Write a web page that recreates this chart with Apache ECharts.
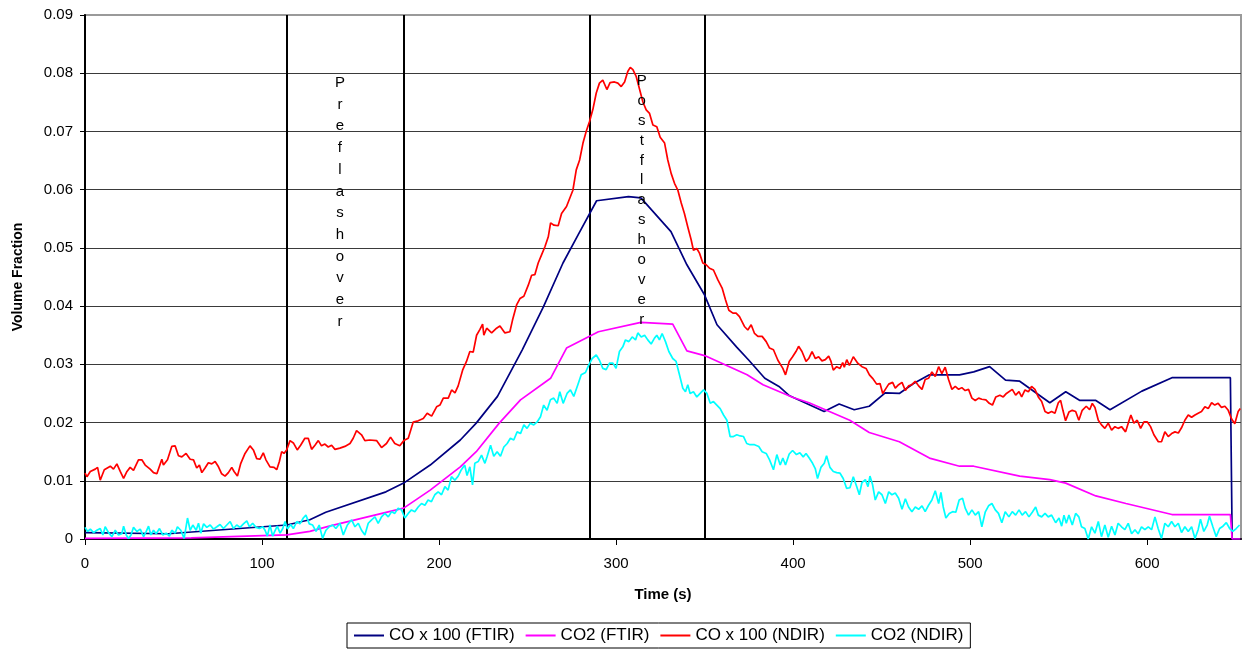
<!DOCTYPE html>
<html>
<head>
<meta charset="utf-8">
<title>Volume Fraction vs Time</title>
<script src="https://cdn.jsdelivr.net/npm/echarts@6/dist/echarts.min.js"></script>
<style>
  html, body { margin: 0; padding: 0; background: #fff; }
  #chart { width: 1245px; height: 652px; }
</style>
</head>
<body>
<div id="chart"></div>
<script>
// Gas measurements during the burn: [time (s), volume fraction]
const seriesNames = ['CO x 100 (FTIR)', 'CO2 (FTIR)', 'CO x 100 (NDIR)', 'CO2 (NDIR)'];

const coFtir = [
  [0,0.0011],[47,0.0009],[114,0.0024],[127,0.0033],[136,0.0046],[170,0.0081],[180,0.0096],
  [195,0.0127],[212,0.0170],[221,0.0199],[233,0.0245],[247,0.0325],[259,0.0399],[270,0.0474],
  [279,0.0525],[289,0.0581],[307,0.0588],[314,0.0586],[331,0.0528],[340,0.0471],[350,0.0419],
  [357,0.0368],[368,0.0330],[375,0.0307],[384,0.0276],[392,0.0262],[398,0.0246],[417.5,0.0219],
  [426,0.0232],[434.5,0.0222],[443,0.0228],[452,0.0251],[460,0.0250],[468,0.0267],[477,0.0282],
  [494,0.0282],[502,0.0287],[511,0.0296],[520,0.0273],[528,0.0271],[545,0.0234],[554,0.0253],
  [562,0.0238],[571,0.0238],[579,0.0222],[597,0.0254],[614,0.0277],[647,0.0277],[648,0],[652.6,0]
];

const co2Ftir = [
  [0,0.0001],[60,0.0002],[114,0.0007],[127,0.0013],[138,0.0022],[180,0.0053],[195,0.0084],
  [212,0.0124],[221,0.0150],[234,0.0199],[246,0.0239],[263,0.0276],[272,0.0328],[290,0.0356],
  [314,0.0372],[332,0.0369],[340,0.0323],[350,0.0315],[374,0.0282],[383,0.0265],[400,0.0243],
  [409,0.0234],[432,0.0204],[443,0.0183],[460,0.0167],[477,0.0139],[494,0.0125],[502,0.0125],
  [528,0.0108],[545,0.0102],[554,0.0096],[571,0.0074],[588,0.0061],[614,0.0042],[647,0.0042],
  [648,0],[652.6,0]
];

const coNdir = [
  [0,0.0113],[1.1,0.0107],[3,0.0116],[5.8,0.0120],[7.1,0.0123],[8.6,0.0101],[10.9,0.0119],[14.3,0.0125],
  [16.1,0.0120],[18,0.0129],[19.9,0.0116],[21.8,0.0104],[23.7,0.0116],[25.5,0.0123],[27.4,0.0118],
  [30.2,0.0136],[32.1,0.0136],[34,0.0127],[36.8,0.0120],[38.7,0.0114],[40.6,0.0112],[43.4,0.0137],
  [44.3,0.0127],[46.6,0.0136],[49,0.0159],[50.9,0.0160],[52.8,0.0143],[54.7,0.0141],[57.1,0.0147],
  [59.4,0.0137],[61.3,0.0136],[63.1,0.0122],[64.6,0.0127],[66,0.0114],[67.8,0.0122],[69.7,0.0131],
  [71.6,0.0129],[73.5,0.0133],[75.4,0.0124],[77.2,0.0112],[79.1,0.0108],[81,0.0114],[82.9,0.0123],
  [84.2,0.0116],[86.1,0.0108],[88,0.0130],[90.4,0.0147],[93.2,0.0160],[95.1,0.0153],[97,0.0138],
  [98.9,0.0137],[100.7,0.0148],[102.2,0.0136],[104.5,0.0124],[106.8,0.0123],[108.3,0.0119],
  [109.8,0.0133],[111.1,0.0150],[112.4,0.0147],[113.9,0.0153],[115.8,0.0169],[117.7,0.0165],
  [119.9,0.0153],[121.8,0.0161],[124.2,0.0173],[126.1,0.0173],[128,0.0154],[129.9,0.0161],
  [131.8,0.0169],[133.6,0.0160],[135.5,0.0163],[137.4,0.0158],[139.3,0.0161],[141.2,0.0154],
  [144,0.0156],[146.8,0.0159],[149.7,0.0164],[151.5,0.0173],[153.4,0.0186],[156.2,0.0179],
  [158.1,0.0169],[160.9,0.0170],[164.7,0.0169],[167.5,0.0157],[170.3,0.0164],[172.6,0.0175],
  [175,0.0164],[177.8,0.0160],[180.1,0.0169],[182.6,0.0173],[185.4,0.0201],[188.2,0.0203],
  [191.1,0.0207],[193.3,0.0216],[195.8,0.0211],[198.6,0.0227],[200.5,0.0230],[202.4,0.0242],
  [205.2,0.0242],[207.1,0.0256],[209,0.0251],[210.8,0.0263],[213.3,0.0290],[215.5,0.0305],
  [217.4,0.0322],[219.3,0.0321],[221.2,0.0350],[223.1,0.0360],[224.6,0.0369],[225.3,0.0350],
  [226.9,0.0362],[229.7,0.0354],[232.5,0.0362],[234.4,0.0366],[237.2,0.0354],[240,0.0356],
  [241.5,0.0376],[243.8,0.0402],[245.7,0.0413],[247.9,0.0417],[250.4,0.0436],[252.3,0.0453],
  [254.1,0.0454],[256,0.0474],[257.9,0.0488],[259.8,0.0502],[261.7,0.0519],[263,0.0543],
  [264.9,0.0539],[267.3,0.0538],[269.2,0.0559],[272,0.0571],
  [275.6,0.0599],[277.5,0.0634],[279.4,0.0651],[281.3,0.0680],[283.1,0.0700],[285,0.0717],
  [286.9,0.0738],[288.8,0.0766],[290.6,0.0783],[292.5,0.0788],[294.8,0.0772],[296.6,0.0784],
  [299.1,0.0785],[301,0.0783],[302.9,0.0777],[304.8,0.0785],[306.6,0.0803],[308,0.0810],
  [309.5,0.0806],[311.4,0.0794],[313.3,0.0772],[315.1,0.0751],[317,0.0737],[318.9,0.0731],
  [320.8,0.0711],[323,0.0708],[324.9,0.0690],[327.4,0.0680],[329.2,0.0651],[331.1,0.0628],
  [333,0.0611],[334.9,0.0599],[336.8,0.0577],[338.6,0.0559],[340.5,0.0536],[342.4,0.0514],
  [343.7,0.0496],[345.6,0.0499],[347.1,0.0491],[349,0.0474],[350.9,0.0471],[352.8,0.0465],
  [355,0.0462],[357.5,0.0445],[359.9,0.0431],[361.8,0.0411],[363.7,0.0393],[366,0.0388],
  [367.8,0.0388],[369.7,0.0382],[372.5,0.0365],[374.4,0.0359],[376.3,0.0368],[378.2,0.0353],
  [380.1,0.0348],[382.5,0.0348],[384.8,0.0339],[386.7,0.0328],[388.9,0.0325],[391.4,0.0307],
  [394.2,0.0293],[395.7,0.0282],
  [397.8,0.0305],[399.7,0.0313],[401.6,0.0322],[403.1,0.0331],[405,0.0322],[407.3,0.0305],
  [408.8,0.0310],[410.7,0.0322],[412.6,0.0310],[414.4,0.0313],[416.3,0.0306],[418.2,0.0308],
  [420.1,0.0314],[421.4,0.0305],[422.7,0.0290],[424.6,0.0296],[426.5,0.0293],[428,0.0303],
  [428.9,0.0295],[430.3,0.0308],[431.8,0.0298],[434,0.0313],[436.5,0.0302],[438.9,0.0296],
  [441.2,0.0293],[443.1,0.0282],[444.9,0.0276],[447.2,0.0266],[449.1,0.0267],[450.6,0.0250],
  [452.1,0.0257],[454,0.0266],[456.2,0.0269],[457.7,0.0259],[459.6,0.0265],[461.5,0.0269],
  [463.4,0.0255],[465.2,0.0263],[467.1,0.0265],[469,0.0271],[470.9,0.0263],[472.8,0.0257],
  [474.6,0.0274],[476.5,0.0276],[478.4,0.0287],[480.3,0.0279],[482.2,0.0296],[484,0.0284],
  [485.9,0.0295],[487.8,0.0274],[489.7,0.0257],[491.6,0.0262],[493.5,0.0257],[495.3,0.0260],
  [497.2,0.0255],[499.1,0.0257],[501,0.0242],[502.9,0.0238],[504.8,0.0242],[506.6,0.0240],
  [508.9,0.0239],[510.8,0.0233],[512.6,0.0230],[514.5,0.0244],[516.8,0.0247],[518.7,0.0244],
  [520.5,0.0250],
  [523.8,0.0257],[525.7,0.0247],[527.6,0.0253],[529.1,0.0244],[531,0.0256],[532.9,0.0253],
  [534.7,0.0262],[536.6,0.0257],[538.5,0.0244],[540.4,0.0236],[542.3,0.0219],[544.1,0.0216],
  [546,0.0219],[547.9,0.0216],[549.8,0.0234],[551.1,0.0238],[552.4,0.0221],[553.9,0.0203],
  [555.8,0.0218],[557.7,0.0221],[559.6,0.0219],[561.4,0.0204],[563.3,0.0221],[565.6,0.0228],
  [567.5,0.0222],[569,0.0233],[570.5,0.0226],[572.4,0.0204],[574.2,0.0196],[576.1,0.0190],
  [578,0.0199],[579.9,0.0187],[581.8,0.0193],[583.6,0.0190],[585.5,0.0193],[587.8,0.0184],
  [589.3,0.0199],[590.8,0.0213],[592.5,0.0199],[594.4,0.0204],[596.3,0.0190],[598.2,0.0201],
  [600.1,0.0201],[601.9,0.0193],[603.8,0.0179],[606.3,0.0167],[608.1,0.0167],[610,0.0184],
  [611.9,0.0176],[613.8,0.0181],[615.7,0.0184],[617.6,0.0182],[619.4,0.0191],[621.3,0.0204],
  [623.2,0.0213],[625.1,0.0209],[627,0.0213],[628.8,0.0216],[630.7,0.0219],[632.6,0.0227],
  [634.5,0.0224],[636.4,0.0234],[638.2,0.0230],[640.1,0.0233],[642,0.0226],[643.9,0.0228],
  [645.8,0.0221],[647.7,0.0206],[649.5,0.0198],[651.4,0.0219],[652.6,0.0224]
];

const co2Ndir = [
  [0,0.0020],[1.5,0.0013],[3,0.0017],[4.9,0.0011],[6.7,0.0015],[8.6,0.0018],[10.1,0.0007],
  [11.4,0.0021],[13.3,0.0011],[15.2,0.0004],[17.1,0.0015],[18.9,0.0007],[20.8,0.0009],[21.8,0.0022],
  [23.3,0.0007],[24.6,0.0001],[26,0.0007],[27.4,0.0020],[29.3,0.0013],[31.2,0.0017],[33.1,0.0004],
  [34.6,0.0013],[35.9,0.0022],[37.2,0.0007],[38.7,0.0015],[40.2,0.0009],[42.1,0.0018],[43.9,0.0007],
  [45.9,0.0010],[47.7,0.0005],[49,0.0015],[50.9,0.0010],[52.2,0.0021],[54.1,0.0015],[56,0.0001],
  [57.9,0.0036],[59.4,0.0015],[60.9,0.0024],[62.8,0.0015],[64.1,0.0027],[65.4,0.0010],[67,0.0026],
  [68.8,0.0020],[70.7,0.0024],[72.6,0.0017],[74.5,0.0021],[76.3,0.0025],[78.2,0.0018],[80.1,0.0024],
  [82,0.0030],[83.9,0.0018],[85.7,0.0024],[87.6,0.0020],[89.5,0.0026],[91.4,0.0031],[92.9,0.0021],
  [94.7,0.0027],[96.6,0.0020],[98.5,0.0018],[100.4,0.0021],[101.7,0.0015],[103,0.0005],[104.5,0.0024],
  [106,0.0005],[107.3,0.0014],[108.6,0.0022],[110.2,0.0010],[111.7,0.0018],[113,0.0030],[114.3,0.0017],
  [116.2,0.0025],[117.7,0.0018],[119.6,0.0030],[121.4,0.0026],[123.3,0.0036],[124.8,0.0041],
  [126.7,0.0026],[128.6,0.0024],[130.5,0.0013],[132.3,0.0024],[134.2,0.0001],[136.1,0.0015],
  [138,0.0021],[139.9,0.0024],[141.7,0.0018],
  [144,0.0027],[145.9,0.0007],[148.2,0.0024],[150.6,0.0033],[152.5,0.0021],[154.4,0.0027],
  [156.2,0.0015],[158.1,0.0007],[160,0.0027],[161.9,0.0033],[163.8,0.0038],[165.6,0.0027],
  [167.5,0.0038],[169.4,0.0044],[171.3,0.0038],[173.2,0.0047],[175,0.0044],[176.9,0.0053],
  [178.8,0.0050],[180.7,0.0036],[182.6,0.0044],[184.4,0.0050],[186.3,0.0047],[188.2,0.0055],
  [190.1,0.0061],[192,0.0058],[193.8,0.0067],[195.7,0.0064],[197.6,0.0076],[199.5,0.0081],
  [201.4,0.0076],[203.3,0.0090],[205.1,0.0084],[207,0.0107],[208.9,0.0101],[210.8,0.0108],
  [212.6,0.0119],[214.5,0.0127],[215.8,0.0109],[217.4,0.0124],[218.9,0.0093],[220.2,0.0130],
  [222.1,0.0133],[224,0.0144],[225.9,0.0130],[227.2,0.0142],[229.1,0.0161],[230.9,0.0142],
  [232.8,0.0150],[234.7,0.0142],[236.6,0.0158],[238.5,0.0164],[240.3,0.0173],[242.2,0.0170],
  [244.1,0.0184],[246,0.0181],[247.9,0.0196],[249.7,0.0190],[251.6,0.0199],[253.5,0.0196],
  [255.4,0.0201],[257.3,0.0210],[259.1,0.0230],[261,0.0221],[262.9,0.0239],[264.8,0.0242],
  [266.7,0.0233],[268.2,0.0253],[270.1,0.0233],[272.3,0.0250],[274.2,0.0256],[276.1,0.0245],
  [277.1,0.0242],[278.4,0.0265],[280.3,0.0282],[282.7,0.0286],[284.6,0.0299],[286.5,0.0310],
  [288.8,0.0316],[290.6,0.0307],[292.5,0.0293],[294.4,0.0291],[296.3,0.0302],[298.2,0.0302],
  [300,0.0293],[301.9,0.0322],[303.8,0.0330],[305.3,0.0342],[307.2,0.0339],[309.1,0.0347],
  [311,0.0342],[312.3,0.0354],[314.2,0.0347],[316.1,0.0350],[317.9,0.0342],[319.8,0.0335],
  [321.7,0.0345],[323,0.0350],[324.5,0.0342],[326,0.0353],[327.9,0.0339],[329.8,0.0322],
  [332,0.0310],[333.9,0.0305],[335.8,0.0282],[337.7,0.0259],[339.2,0.0253],[340.5,0.0265],
  [341.8,0.0250],[343.7,0.0253],[345.6,0.0244],[347.5,0.0250],[349.4,0.0256],[351.3,0.0250],
  [353.2,0.0233],[355,0.0236],[356.9,0.0230],[358.8,0.0224],[360.7,0.0213],[362.6,0.0204],
  [364.4,0.0176],[366.3,0.0176],[368.2,0.0179],[370.1,0.0177],[372,0.0176],[373.8,0.0164],
  [375.7,0.0162],[378.2,0.0162],[380.6,0.0159],[382.5,0.0150],[384.8,0.0147],[386.7,0.0136],
  [388.9,0.0119],[390.8,0.0145],[392.7,0.0127],[394.2,0.0139],[395.7,0.0127],
  [397.8,0.0146],[399.7,0.0152],[401.9,0.0145],[403.8,0.0148],[405.7,0.0141],[407.3,0.0147],
  [409.1,0.0139],[411,0.0130],[412.5,0.0121],[413.8,0.0104],[415.7,0.0123],[417.6,0.0130],
  [418.9,0.0143],[420.8,0.0123],[422.7,0.0116],[424.6,0.0114],[426.5,0.0113],[428.3,0.0104],
  [430.2,0.0087],[432.1,0.0088],[434,0.0107],[435.9,0.0090],[437.4,0.0076],[438.9,0.0097],
  [440.8,0.0102],[442.3,0.0090],[443.4,0.0108],[444.9,0.0093],[446.4,0.0067],[448.3,0.0081],
  [450.2,0.0076],[452.1,0.0061],[454,0.0081],[455.8,0.0076],[457.7,0.0079],[459.6,0.0070],
  [461.5,0.0051],[463.4,0.0069],[465.2,0.0055],[467.1,0.0047],[469,0.0055],[470.9,0.0051],
  [472.8,0.0057],[474.6,0.0047],[476.5,0.0058],[478.4,0.0067],[480.3,0.0083],[482.2,0.0061],
  [483.5,0.0080],[484.8,0.0055],[486.3,0.0036],[488.2,0.0044],[490.1,0.0047],[491.9,0.0046],
  [493.8,0.0067],[495.7,0.0070],[497.2,0.0053],[499.1,0.0041],[501,0.0050],[502.9,0.0041],
  [504.8,0.0047],[506.6,0.0021],[508.5,0.0046],[510.4,0.0057],[512.3,0.0061],[514.2,0.0050],
  [516,0.0044],[517.9,0.0028],[519.8,0.0047],
  [521.9,0.0038],[523.8,0.0047],[525.7,0.0041],[527.6,0.0050],[529.4,0.0041],[531.3,0.0047],
  [533.2,0.0038],[535.1,0.0046],[537,0.0055],[538.5,0.0041],[540.4,0.0038],[542.3,0.0044],
  [544.1,0.0038],[546,0.0041],[548.3,0.0028],[550.2,0.0036],[551.7,0.0022],[553,0.0041],
  [554.3,0.0027],[555.8,0.0041],[557.7,0.0024],[559.6,0.0044],[561.4,0.0038],[562.9,0.0021],
  [564.8,0.0018],[566.7,0.0000],[568.6,0.0021],[570.5,0.0010],[572.4,0.0030],[574.2,0.0004],
  [576.1,0.0024],[578,0.0003],[579.9,0.0022],[581.8,0.0007],[583.6,0.0027],[585.5,0.0021],
  [587.4,0.0016],[589.3,0.0027],[591.2,0.0009],[593.1,0.0016],[594.9,0.0009],[596.8,0.0021],
  [598.7,0.0016],[600.6,0.0021],[602.5,0.0016],[604.4,0.0038],[606.2,0.0018],[608.1,0.0001],
  [610,0.0027],[611.9,0.0021],[613.8,0.0030],[615.7,0.0021],[617.6,0.0027],[619.4,0.0011],
  [621.3,0.0021],[623.2,0.0013],[625.1,0.0021],[627,0.0001],[628.8,0.0016],[630.1,0.0034],
  [632,0.0013],[633.9,0.0024],[635.2,0.0039],[637.1,0.0021],[639,0.0004],[640.9,0.0018],
  [642.8,0.0022],[644.7,0.0028],[646.6,0.0018],[648.4,0.0013],[650.3,0.0018],[652.2,0.0024]
];

// Phase boundaries (s) and the phase labels written down the chart
const phaseLines = [114, 180, 285, 350];
const phaseLabels = [
  { text: 'Preflashover', time: 144, top: 0.0802, spacing: 21.7 },
  { text: 'Postflashover', time: 314.5, top: 0.0804, spacing: 19.9 }
];

const xTicks = [0, 100, 200, 300, 400, 500, 600];
const yMin = 0, yMax = 0.09, yStep = 0.01;
const xMin = 0, xMax = 653;

const colors = ['#000080', '#FF00FF', '#FF0000', '#00FFFF'];
const FONT = '"Liberation Sans", Arial, sans-serif';

const chart = echarts.init(document.getElementById('chart'), null, { renderer: 'canvas' });

const seriesData = [coFtir, co2Ftir, coNdir, co2Ndir];

const option = {
  animation: false,
  backgroundColor: '#fff',
  textStyle: { fontFamily: FONT, color: '#000' },
  grid: {
    left: 85, top: 15, width: 1156, height: 524,
    show: true, borderColor: '#9a9a9a', borderWidth: 2, backgroundColor: 'transparent'
  },
  legend: {
    data: seriesNames,
    left: 347, top: 623,
    orient: 'horizontal',
    icon: 'rect',
    itemWidth: 30, itemHeight: 2, itemGap: 11,
    padding: [4, 7, 4, 7],
    borderColor: '#000', borderWidth: 1,
    textStyle: { fontFamily: FONT, fontSize: 17, color: '#000' }
  },
  xAxis: {
    type: 'value', min: xMin, max: xMax,
    name: 'Time (s)', nameLocation: 'middle', nameGap: 48,
    nameTextStyle: { fontFamily: FONT, fontSize: 15, fontWeight: 'bold', color: '#000' },
    axisLine: { show: true, onZero: false, lineStyle: { color: '#000', width: 2 } },
    axisTick: { show: true, length: 6, customValues: xTicks, lineStyle: { color: '#000', width: 1 } },
    axisLabel: { customValues: xTicks, margin: 17, fontFamily: FONT, fontSize: 15, color: '#000' },
    splitLine: { show: false }
  },
  yAxis: {
    type: 'value', min: yMin, max: yMax, interval: yStep,
    name: 'Volume Fraction', nameLocation: 'middle', nameGap: 60, nameRotate: 90,
    nameTextStyle: { fontFamily: FONT, fontSize: 14, fontWeight: 'bold', color: '#000' },
    axisLine: { show: true, lineStyle: { color: '#000', width: 2 } },
    axisTick: { show: true, length: 5, lineStyle: { color: '#000', width: 1 } },
    axisLabel: {
      margin: 12, fontFamily: FONT, fontSize: 15, color: '#000',
      formatter: v => (Math.abs(v) < 1e-9 ? '0' : v.toFixed(2))
    },
    splitLine: { show: true, showMinLine: false, showMaxLine: false, lineStyle: { color: '#3a3a3a', width: 1 } }
  },
  series: seriesNames.map((name, i) => ({
    name,
    type: 'line',
    data: seriesData[i],
    showSymbol: false,
    symbol: 'none',
    color: colors[i],
    lineStyle: { color: colors[i], width: 1.7 },
    z: 3 + i,
    markLine: i === 0 ? {
      silent: true,
      symbol: ['none', 'none'],
      label: { show: false },
      lineStyle: { color: '#000', width: 2, type: 'solid' },
      data: phaseLines.map(t => ({ xAxis: t })),
      z: 2
    } : undefined
  }))
};

chart.setOption(option);

// Vertical phase labels, one letter per line, anchored in data coordinates
const graphics = phaseLabels.map(p => {
  const pos = chart.convertToPixel({ gridIndex: 0 }, [p.time, p.top]);
  return {
    type: 'text',
    x: pos[0], y: pos[1],
    z: 10,
    style: {
      text: p.text.split('').join('\n'),
      fontFamily: FONT, fontSize: 15, fill: '#000',
      lineHeight: p.spacing,
      align: 'center', verticalAlign: 'top'
    }
  };
});
chart.setOption({ graphic: graphics });
</script>
</body>
</html>
